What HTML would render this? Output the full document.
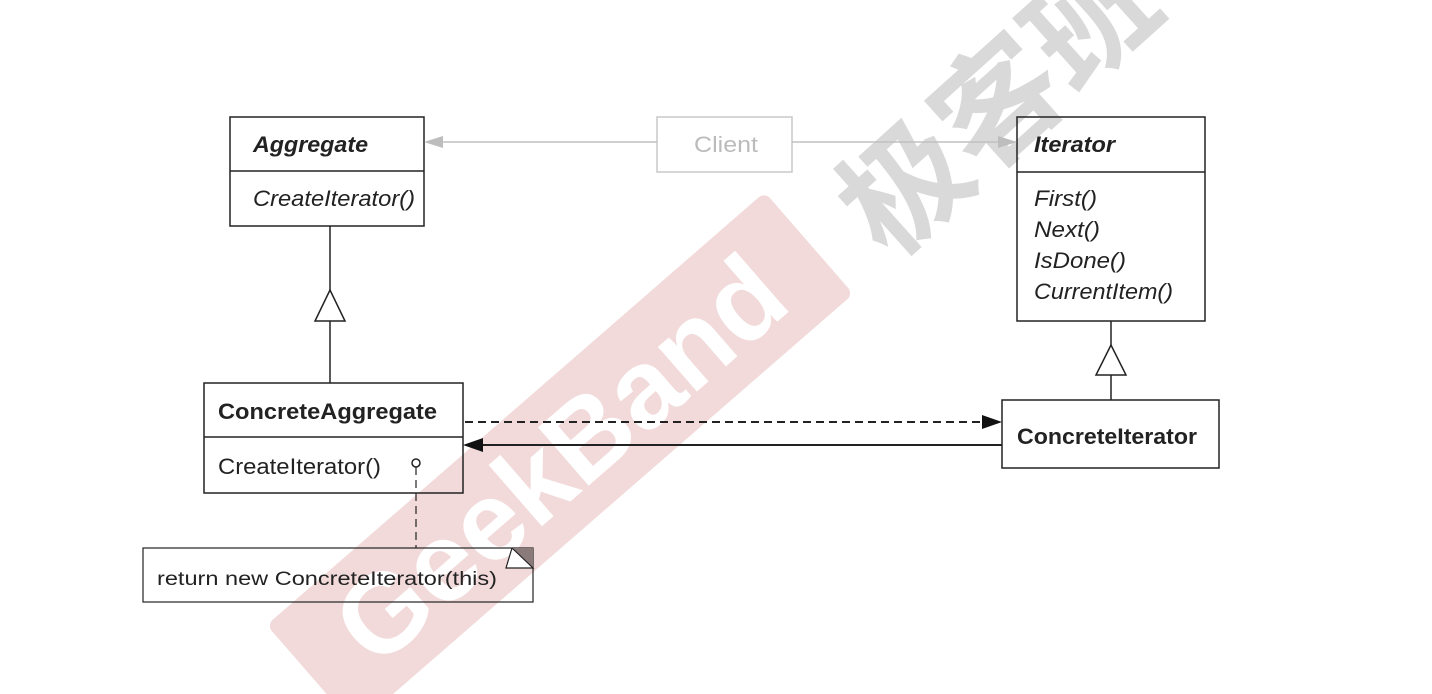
<!DOCTYPE html>
<html><head><meta charset="utf-8"><style>
html,body{margin:0;padding:0;background:#fff;width:1432px;height:694px;overflow:hidden;position:relative;font-family:"Liberation Sans",Arial,sans-serif}
.wm{position:absolute;white-space:nowrap;}
</style></head><body>
<div class="wm" style="left:230px;top:392px;width:660px;height:135px;background:#f2dada;transform:rotate(-41deg);transform-origin:center;border-radius:8px;"></div>
<div class="wm" style="left:230px;top:392px;width:660px;height:135px;transform:rotate(-41deg);color:#fff;font-weight:bold;font-size:112px;line-height:135px;text-align:center;">GeekBand</div>
<div class="wm" style="left:800px;top:30px;width:400px;height:150px;transform:rotate(-42deg);color:#d9d9d9;font-family:'Liberation Sans','Noto Sans CJK SC',sans-serif;font-weight:bold;font-size:125px;line-height:150px;text-align:center;">极客班</div>
<svg width="1432" height="694" style="position:absolute;left:0;top:0" font-family="Liberation Sans, Arial, sans-serif">
<g fill="none" stroke="#222" stroke-width="1.5">
 <rect x="230" y="117" width="194" height="109"/>
 <line x1="230" y1="171" x2="424" y2="171"/>
 <rect x="1017" y="117" width="188" height="204"/>
 <line x1="1017" y1="172" x2="1205" y2="172"/>
 <rect x="204" y="383" width="259" height="110"/>
 <line x1="204" y1="437" x2="463" y2="437"/>
 <rect x="1002" y="400" width="217" height="68"/>
 <rect x="143" y="548" width="390" height="54" stroke-width="1.2"/>
 <line x1="330" y1="226" x2="330" y2="290"/>
 <line x1="330" y1="320" x2="330" y2="383"/>
 <polygon points="330,290 315,321 345,321" fill="#fff"/>
 <line x1="1111" y1="321" x2="1111" y2="345"/>
 <line x1="1111" y1="375" x2="1111" y2="400"/>
 <polygon points="1111,345 1096,375 1126,375" fill="#fff"/>
 <line x1="465" y1="422" x2="985" y2="422" stroke-dasharray="8,5" stroke-width="2"/>
 <line x1="480" y1="445" x2="1002" y2="445" stroke-width="2"/>
 <circle cx="416" cy="463" r="4" fill="#fff"/>
 <line x1="416" y1="467" x2="416" y2="548" stroke-dasharray="8,5" stroke-width="1.2"/>
</g>
<polygon points="1002,422 982,415 982,429" fill="#111"/>
<polygon points="463,445 483,438 483,452" fill="#111"/>
<polygon points="512,548 533,548 533,568" fill="#8a7a7a"/>
<polyline points="512,548 533,568 506,568 512,548" fill="#fff" stroke="#222" stroke-width="1.2"/>
<rect x="657" y="117" width="135" height="55" fill="none" stroke="#c8c8c8" stroke-width="1.5"/>
<line x1="440" y1="142" x2="657" y2="142" stroke="#c0c0c0" stroke-width="1.5"/>
<line x1="792" y1="142" x2="1000" y2="142" stroke="#c0c0c0" stroke-width="1.5"/>
<polygon points="424,142 443,136 443,148" fill="#bdbdbd"/>
<polygon points="1017,142 998,136 998,148" fill="#bdbdbd"/>
<text x="694" y="152" fill="#bbb" font-size="22" textLength="64" lengthAdjust="spacingAndGlyphs">Client</text>
<g fill="#222" font-size="22">
 <text x="253" y="152" font-weight="bold" font-style="italic" textLength="115" lengthAdjust="spacingAndGlyphs">Aggregate</text>
 <text x="253" y="206" font-style="italic" textLength="162" lengthAdjust="spacingAndGlyphs">CreateIterator()</text>
 <text x="1034" y="152" font-weight="bold" font-style="italic" textLength="81" lengthAdjust="spacingAndGlyphs">Iterator</text>
 <text x="1034" y="206" font-style="italic" textLength="63" lengthAdjust="spacingAndGlyphs">First()</text>
 <text x="1034" y="237" font-style="italic" textLength="66" lengthAdjust="spacingAndGlyphs">Next()</text>
 <text x="1034" y="268" font-style="italic" textLength="92" lengthAdjust="spacingAndGlyphs">IsDone()</text>
 <text x="1034" y="299" font-style="italic" textLength="139" lengthAdjust="spacingAndGlyphs">CurrentItem()</text>
 <text x="218" y="419" font-weight="bold" textLength="219" lengthAdjust="spacingAndGlyphs">ConcreteAggregate</text>
 <text x="218" y="474" textLength="163" lengthAdjust="spacingAndGlyphs">CreateIterator()</text>
 <text x="1017" y="444" font-weight="bold" textLength="180" lengthAdjust="spacingAndGlyphs">ConcreteIterator</text>
 <text x="157" y="585" font-size="19" textLength="340" lengthAdjust="spacingAndGlyphs">return new ConcreteIterator(this)</text>
</g>
</svg>
</body></html>
